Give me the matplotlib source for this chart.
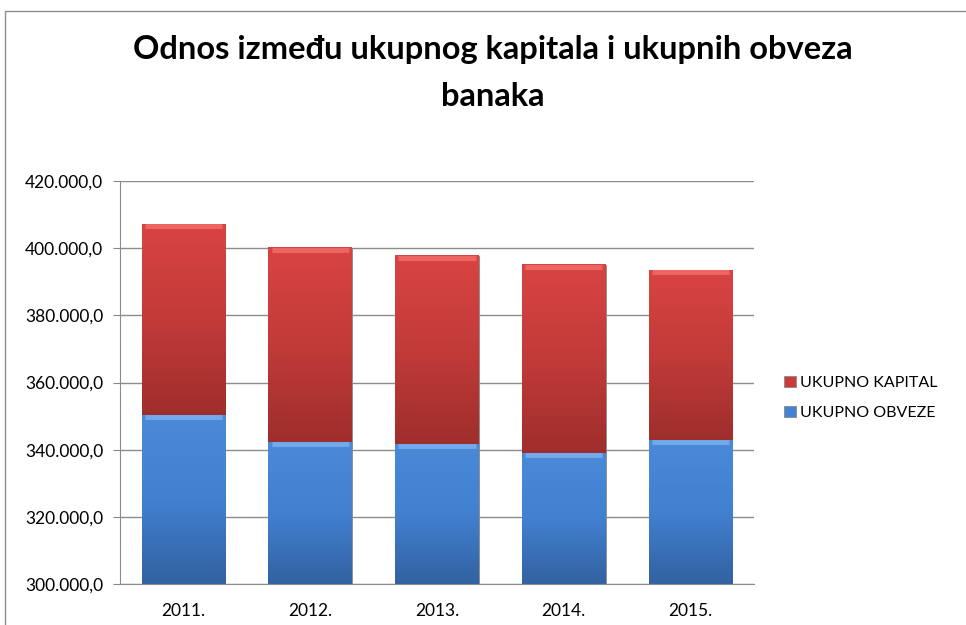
import numpy as np
import matplotlib
matplotlib.use('Agg')
import matplotlib.pyplot as plt
from matplotlib.patches import Rectangle
from matplotlib.colors import LinearSegmentedColormap
from matplotlib.ticker import FuncFormatter

years = ['2011.', '2012.', '2013.', '2014.', '2015.']
obveze = [350400, 342200, 341700, 338900, 342900]
ukupno = [407100, 400000, 397700, 395100, 393500]
kapital = [t - o for t, o in zip(ukupno, obveze)]

Y_MIN, Y_MAX = 300000, 420000

plt.rcParams['font.family'] = ['Lato', 'DejaVu Sans']

fig = plt.figure(figsize=(9.66, 6.25), dpi=100)
fig.patches.append(Rectangle((5 / 966, -0.01), 1.0, 1 - 11 / 625 + 0.01,
                             transform=fig.transFigure, fill=False,
                             edgecolor='#8c8c8c', lw=1.0))
ax = fig.add_axes([120 / 966, 1 - 584 / 625, (754 - 120) / 966, (584 - 181) / 625])

x = np.arange(len(years))
b1 = ax.bar(x, obveze, width=0.66, color='#4383d4', label='UKUPNO OBVEZE', zorder=2)
b2 = ax.bar(x, kapital, bottom=obveze, width=0.66, color='#c83c3a',
            label='UKUPNO KAPITAL', zorder=2)

# gradient shading like the Excel bevel
blue_cm = LinearSegmentedColormap.from_list('b', ['#3262a0', '#4280d0', '#4a8ad9'])
red_cm = LinearSegmentedColormap.from_list('r', ['#9e2e2c', '#c23b39', '#d84443'])
grad = np.linspace(0, 1, 256).reshape(-1, 1)
for bars, cm, top_col in ((b1, blue_cm, '#74aaec'), (b2, red_cm, '#ee6662')):
    for bar in bars:
        x0, y0 = bar.get_x(), max(bar.get_y(), Y_MIN)
        w, y1 = bar.get_width(), bar.get_y() + bar.get_height()
        im = ax.imshow(grad, cmap=cm, aspect='auto', origin='lower',
                       extent=(x0, x0 + w, y0, y1), zorder=2.1)
        ax.plot([x0 + 0.025, x0 + w - 0.025], [y1 - 600, y1 - 600],
                color=top_col, lw=3.5, zorder=2.3, solid_capstyle='butt')
        bar.set_edgecolor('#8a8a8a')
        bar.set_linewidth(0.6)

ax.set_xlim(-0.5, len(years) - 0.5)
ax.set_ylim(Y_MIN, Y_MAX)
ax.set_yticks(np.arange(Y_MIN, Y_MAX + 1, 20000))
ax.yaxis.set_major_formatter(FuncFormatter(
    lambda v, p: f'{v:,.1f}'.replace(',', 'X').replace('.', ',').replace('X', '.')))
ax.set_xticks(x)
ax.set_xticklabels(years)
ax.tick_params(axis='y', length=5, color='#888888', labelsize=12.5, pad=7)
ax.tick_params(axis='x', length=0, labelsize=12.5, pad=14)
ax.grid(axis='y', color='#8c8c8c', lw=1.0, zorder=0)
ax.set_axisbelow(True)
for s in ('top', 'right'):
    ax.spines[s].set_visible(False)
for s in ('left', 'bottom'):
    ax.spines[s].set_color('#8c8c8c')

h, l = ax.get_legend_handles_labels()
fig.legend(h[::-1], l[::-1], loc='center left', bbox_to_anchor=(770 / 966, 1 - 398 / 625),
           frameon=False, fontsize=11.5, handlelength=0.7, handleheight=0.7,
           handletextpad=0.3, labelspacing=1.0)

fig.text(493 / 966, 1 - 50 / 625, 'Odnos između ukupnog kapitala i ukupnih obveza',
         ha='center', va='center', fontsize=23.5, fontweight='bold')
fig.text(493 / 966, 1 - 96 / 625, 'banaka', ha='center', va='center',
         fontsize=23.5, fontweight='bold')

fig.savefig('out.png', dpi=100)
